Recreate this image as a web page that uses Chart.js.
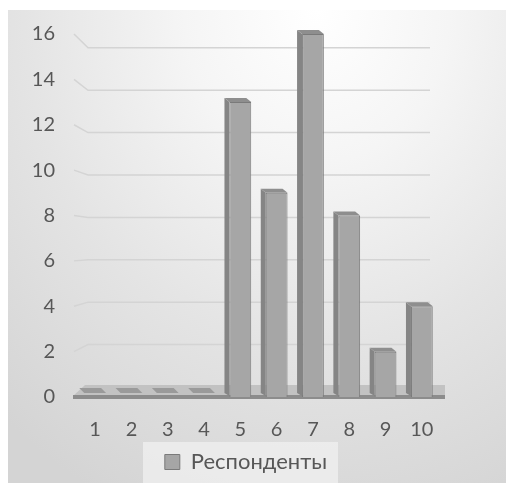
<!DOCTYPE html>
<html>
<head>
<meta charset="utf-8">
<script src="https://cdn.jsdelivr.net/npm/chart.js@4.4.1/dist/chart.umd.min.js"></script>
<style>
  html, body { margin: 0; padding: 0; background: #ffffff; }
  #wrap { position: relative; width: 506px; height: 483px; overflow: hidden; }
  #bg {
    position: absolute; left: 8px; top: 10px; right: 0; bottom: 0;
    background: radial-gradient(ellipse 95% 115% at 62% 0%, #ffffff 0%, #f5f5f5 28%, #e4e4e4 62%, #d4d4d4 100%);
  }
  canvas { position: absolute; left: 0; top: 0; }
</style>
</head>
<body>
<div id="wrap"><div id="bg"></div><canvas id="c" width="506" height="483"></canvas></div>
<script>
// Survey scores 1..10 and how many respondents gave each one
const categories = ['1', '2', '3', '4', '5', '6', '7', '8', '9', '10'];
const respondents = [0, 0, 0, 0, 13, 9, 16, 8, 2, 4];
const seriesName = 'Респонденты';
const yTickValues = [0, 2, 4, 6, 8, 10, 12, 14, 16];

const textColor = '#575757';
const fontFamily = 'Lato, "Liberation Sans", sans-serif';

// Back wall gridlines and floor slab, giving the plot a 3-D look
const wallAndFloor = {
  id: 'wallAndFloor',
  beforeDatasetsDraw(chart) {
    const { ctx, chartArea: a, scales: { y } } = chart;
    const y0 = y.getPixelForValue(0);
    const vanish = 244, shrink = 0.934;
    ctx.save();
    ctx.strokeStyle = '#d4d4d4';
    ctx.lineWidth = 1.5;
    yTickValues.forEach(v => {
      if (v === 0) return;
      const yf = y.getPixelForValue(v);
      const yb = vanish + shrink * (yf - vanish);
      ctx.beginPath();
      ctx.moveTo(a.left - 3, yf);
      ctx.lineTo(a.left + 11, yb);
      ctx.lineTo(a.right - 10, yb);
      ctx.stroke();
    });
    // floor top surface
    const back = y0 - 12;
    ctx.fillStyle = '#c2c2c2';
    ctx.beginPath();
    ctx.moveTo(a.left - 4, y0 - 1);
    ctx.lineTo(a.left + 8, back);
    ctx.lineTo(a.right + 5, back);
    ctx.lineTo(a.right + 5, y0 - 1);
    ctx.closePath();
    ctx.fill();
    // floor front edge
    ctx.fillStyle = '#8c8c8c';
    ctx.fillRect(a.left - 4, y0 - 2, a.right - a.left + 9, 4);
    ctx.restore();
  }
};

// Side faces and top caps of the bars
const barDepth = {
  id: 'barDepth',
  afterDatasetsDraw(chart) {
    const { ctx } = chart;
    const meta = chart.getDatasetMeta(0);
    const dx = -5, dy = -4;
    ctx.save();
    meta.data.forEach((bar, i) => {
      const { x, y, base, width } = bar.getProps(['x', 'y', 'base', 'width'], true);
      const l = x - width / 2, r = x + width / 2;
      if (respondents[i] === 0) {
        ctx.fillStyle = '#9a9a9a';
        ctx.beginPath();
        ctx.moveTo(l, base - 4);
        ctx.lineTo(r, base - 4);
        ctx.lineTo(r + dx, base - 9);
        ctx.lineTo(l + dx, base - 9);
        ctx.closePath();
        ctx.fill();
        return;
      }
      // left side face
      ctx.fillStyle = '#858585';
      ctx.beginPath();
      ctx.moveTo(l, y);
      ctx.lineTo(l + dx, y + dy);
      ctx.lineTo(l + dx, base - 4);
      ctx.lineTo(l, base - 1);
      ctx.closePath();
      ctx.fill();
      // top cap
      ctx.fillStyle = '#8e8e8e';
      ctx.beginPath();
      ctx.moveTo(l, y);
      ctx.lineTo(r, y);
      ctx.lineTo(r + dx, y + dy);
      ctx.lineTo(l + dx, y + dy);
      ctx.closePath();
      ctx.fill();
    });
    ctx.restore();
  }
};

// Lighter panel behind the legend entry
const legendPanel = {
  id: 'legendPanel',
  beforeDraw(chart) {
    const lg = chart.legend;
    if (!lg || !lg.legendHitBoxes || !lg.legendHitBoxes.length) return;
    const hb = lg.legendHitBoxes[0];
    const { ctx } = chart;
    const cx = hb.left + hb.width / 2;
    ctx.save();
    ctx.fillStyle = 'rgba(240,240,240,0.75)';
    ctx.fillRect(cx - 103, lg.top, 195, chart.height - lg.top);
    ctx.restore();
  }
};

new Chart(document.getElementById('c'), {
  type: 'bar',
  data: {
    labels: categories,
    datasets: [{
      label: seriesName,
      data: respondents,
      backgroundColor: '#a6a6a6',
      borderColor: '#7a7a7a',
      borderWidth: 1,
      borderSkipped: 'bottom',
      barPercentage: 0.6,
      categoryPercentage: 1
    }]
  },
  options: {
    responsive: false,
    animation: false,
    devicePixelRatio: 1,
    layout: { padding: { top: 30, right: 14, left: 0, bottom: 0 } },
    scales: {
      x: {
        grid: { display: false, drawTicks: false },
        border: { display: false },
        ticks: { color: textColor, font: { family: fontFamily, size: 20 }, padding: 21 },
        afterFit(s) { s.height = 45; }
      },
      y: {
        min: 0, max: 16,
        grid: { display: false, drawTicks: false },
        border: { display: false },
        ticks: { stepSize: 2, color: textColor, font: { family: fontFamily, size: 20 }, padding: 22 },
        afterFit(s) { s.width = 77; }
      },
      // empty strip on the right of the plot
      yRight: {
        position: 'right',
        min: 0, max: 16,
        grid: { display: false, drawTicks: false },
        border: { display: false },
        ticks: { display: false },
        afterFit(s) { s.width = 52; }
      }
    },
    plugins: {
      legend: {
        position: 'bottom',
        labels: {
          color: textColor,
          font: { family: fontFamily, size: 22 },
          boxWidth: 15, boxHeight: 15, padding: 9
        }
      },
      tooltip: { enabled: false }
    }
  },
  plugins: [legendPanel, wallAndFloor, barDepth]
});
</script>
</body>
</html>
